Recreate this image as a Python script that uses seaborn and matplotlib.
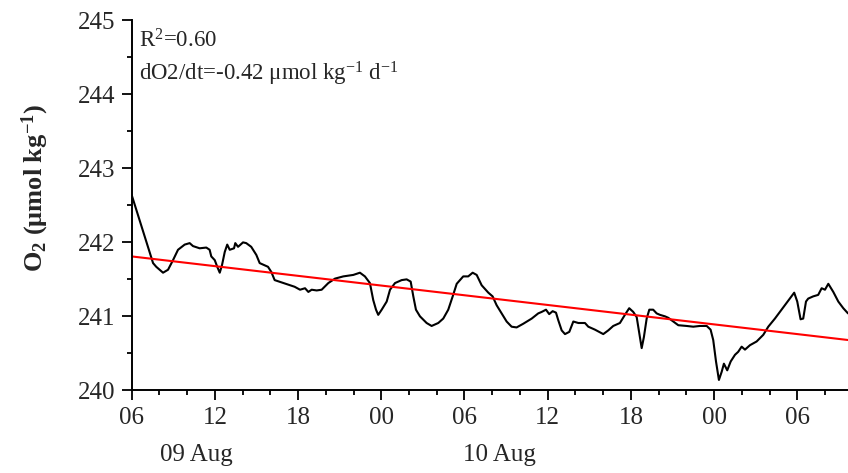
import numpy as np
import pandas as pd
import matplotlib
matplotlib.use("Agg")
import matplotlib.pyplot as plt
import matplotlib.transforms as mtransforms
from matplotlib.ticker import MultipleLocator
import seaborn as sns

# -----------------------------
# Data (hours after 09 Aug 06:00, O2 in umol/kg)
# -----------------------------

hours = [0.00, 0.45, 1.05, 1.54, 1.77, 2.26, 2.62, 2.98, 3.34, 3.82,
         4.18, 4.42, 4.90, 5.38, 5.62, 5.74, 5.99, 6.17, 6.35, 6.51,
         6.71, 6.89, 7.07, 7.38, 7.47, 7.67, 8.03, 8.26, 8.62, 8.99,
         9.23, 9.59, 9.83, 10.07, 10.31, 10.79, 11.27, 11.75, 12.14, 12.50,
         12.74, 12.98, 13.34, 13.70, 14.18, 14.66, 15.26, 15.98, 16.46, 16.82,
         17.18, 17.42, 17.62, 17.78, 18.03, 18.39, 18.63, 18.99, 19.47, 19.83,
         20.12, 20.31, 20.50, 20.79, 21.27, 21.63, 22.11, 22.47, 22.83, 23.15,
         23.44, 23.91, 24.27, 24.59, 24.88, 25.24, 25.72, 26.03, 26.32, 26.68,
         27.04, 27.40, 27.76, 28.24, 28.85, 29.32, 29.57, 29.88, 30.11, 30.36,
         30.60, 30.76, 31.01, 31.25, 31.56, 31.85, 32.21, 32.69, 32.93, 33.41,
         34.01, 34.37, 34.73, 35.21, 35.57, 35.88, 36.17, 36.42, 36.61, 36.78,
         36.94, 37.14, 37.33, 37.61, 37.86, 38.10, 38.46, 38.70, 39.06, 39.42,
         40.02, 40.50, 40.98, 41.47, 41.75, 41.94, 42.14, 42.35, 42.55, 42.71,
         42.95, 43.20, 43.51, 43.74, 43.99, 44.23, 44.59, 45.07, 45.55, 45.91,
         46.39, 46.87, 47.23, 47.60, 47.78, 48.00, 48.24, 48.43, 48.63, 48.79,
         49.15, 49.51, 49.76, 50.00, 50.24, 50.60, 50.96, 51.32, 51.66]

o2 = [242.64, 242.37, 242.01, 241.72, 241.67, 241.59, 241.63, 241.76, 241.90, 241.97,
      241.99, 241.95, 241.92, 241.93, 241.90, 241.81, 241.76, 241.67, 241.59, 241.69,
      241.87, 241.97, 241.90, 241.92, 241.99, 241.94, 242.00, 241.99, 241.94, 241.83,
      241.72, 241.69, 241.67, 241.60, 241.49, 241.46, 241.43, 241.40, 241.36, 241.38,
      241.33, 241.36, 241.35, 241.36, 241.45, 241.51, 241.54, 241.56, 241.59, 241.54,
      241.45, 241.22, 241.09, 241.02, 241.09, 241.20, 241.36, 241.45, 241.49, 241.50,
      241.47, 241.27, 241.09, 241.00, 240.91, 240.87, 240.91, 240.97, 241.09, 241.27,
      241.44, 241.54, 241.54, 241.59, 241.56, 241.42, 241.32, 241.27, 241.15, 241.04,
      240.93, 240.86, 240.85, 240.90, 240.97, 241.04, 241.06, 241.09, 241.03, 241.07,
      241.05, 240.95, 240.81, 240.76, 240.79, 240.93, 240.91, 240.91, 240.86, 240.82,
      240.76, 240.81, 240.87, 240.91, 241.02, 241.11, 241.06, 240.99, 240.77, 240.57,
      240.72, 240.97, 241.09, 241.09, 241.04, 241.02, 241.00, 240.98, 240.93, 240.88,
      240.87, 240.86, 240.87, 240.87, 240.82, 240.68, 240.39, 240.14, 240.25, 240.36,
      240.27, 240.39, 240.48, 240.52, 240.59, 240.55, 240.61, 240.66, 240.75, 240.86,
      240.97, 241.09, 241.18, 241.27, 241.32, 241.20, 240.96, 240.97, 241.20, 241.24,
      241.27, 241.29, 241.38, 241.36, 241.44, 241.33, 241.20, 241.11, 241.04]

# linear fit line (end points)
fit_hours = [0.0, 51.66]
fit_o2 = [241.81, 240.68]

xtick_hours = [0, 6, 12, 18, 24, 30, 36, 42, 48]
xtick_labels = ["06", "12", "18", "00", "06", "12", "18", "00", "06"]
date_labels = ["09 Aug", "10 Aug"]
date_hours = [2.04, 23.9]

r2_text = "R$^2$=0.60"
slope_text = "dO2/dt=-0.42 \u03bcmol kg$^{-1}$ d$^{-1}$"
ylabel_text = "O$_2$ (\u03bcmol kg$^{-1}$)"

# -----------------------------
# Style
# -----------------------------

sns.set_style("ticks")
plt.rcParams['font.family'] = ['Liberation Serif', 'DejaVu Serif']
plt.rcParams['mathtext.default'] = 'regular'

df = pd.DataFrame({'hours': hours, 'O2': o2})
fit_df = pd.DataFrame({'hours': fit_hours, 'O2': fit_o2})

fig = plt.figure(figsize=(8.48, 4.73), dpi=100)
ax = fig.add_axes([131.7 / 848, 1 - 390.3 / 473, 1 - 131.7 / 848, (390.3 - 20.5) / 473])

sns.lineplot(x='hours', y='O2', data=df, color='black', linewidth=1.5, ax=ax)
sns.lineplot(x='hours', y='O2', data=fit_df, color='#ff0000', linewidth=1.5, ax=ax)

ax.set_xlim(0, 51.66)
ax.set_ylim(240, 245)
ax.set_xlabel("")
ax.set_ylabel("")

ax.set_xticks(xtick_hours)
ax.set_xticklabels(xtick_labels)
ax.xaxis.set_minor_locator(MultipleLocator(2))
ax.yaxis.set_major_locator(MultipleLocator(1))
ax.yaxis.set_minor_locator(MultipleLocator(0.5))

ax.tick_params(axis='both', which='major', length=7, width=1.3, labelsize=18,
               direction='out', color='black', pad=5)
ax.tick_params(axis='both', which='minor', length=3.8, width=1.3, direction='out', color='black')

for side in ['top', 'right']:
    ax.spines[side].set_visible(False)
for side in ['left', 'bottom']:
    ax.spines[side].set_linewidth(1.4)
    ax.spines[side].set_color('black')

# date labels under the hour ticks
trans = mtransforms.blended_transform_factory(ax.transData, ax.transAxes)
for h, lab in zip(date_hours, date_labels):
    ax.text(h, -0.191, lab, transform=trans, fontsize=18, ha='left', va='baseline')

# fit statistics
ax.text(0.0106, 0.9257, r2_text, transform=ax.transAxes, fontsize=16.5, ha='left', va='baseline')
ax.text(0.0106, 0.8372, slope_text, transform=ax.transAxes, fontsize=16.5, ha='left', va='baseline')

fig.text(35 / 848, 1 - 188 / 473, ylabel_text, rotation=90, fontsize=19, fontweight='bold',
         ha='center', va='center')

plt.savefig("out.png", dpi=100)
